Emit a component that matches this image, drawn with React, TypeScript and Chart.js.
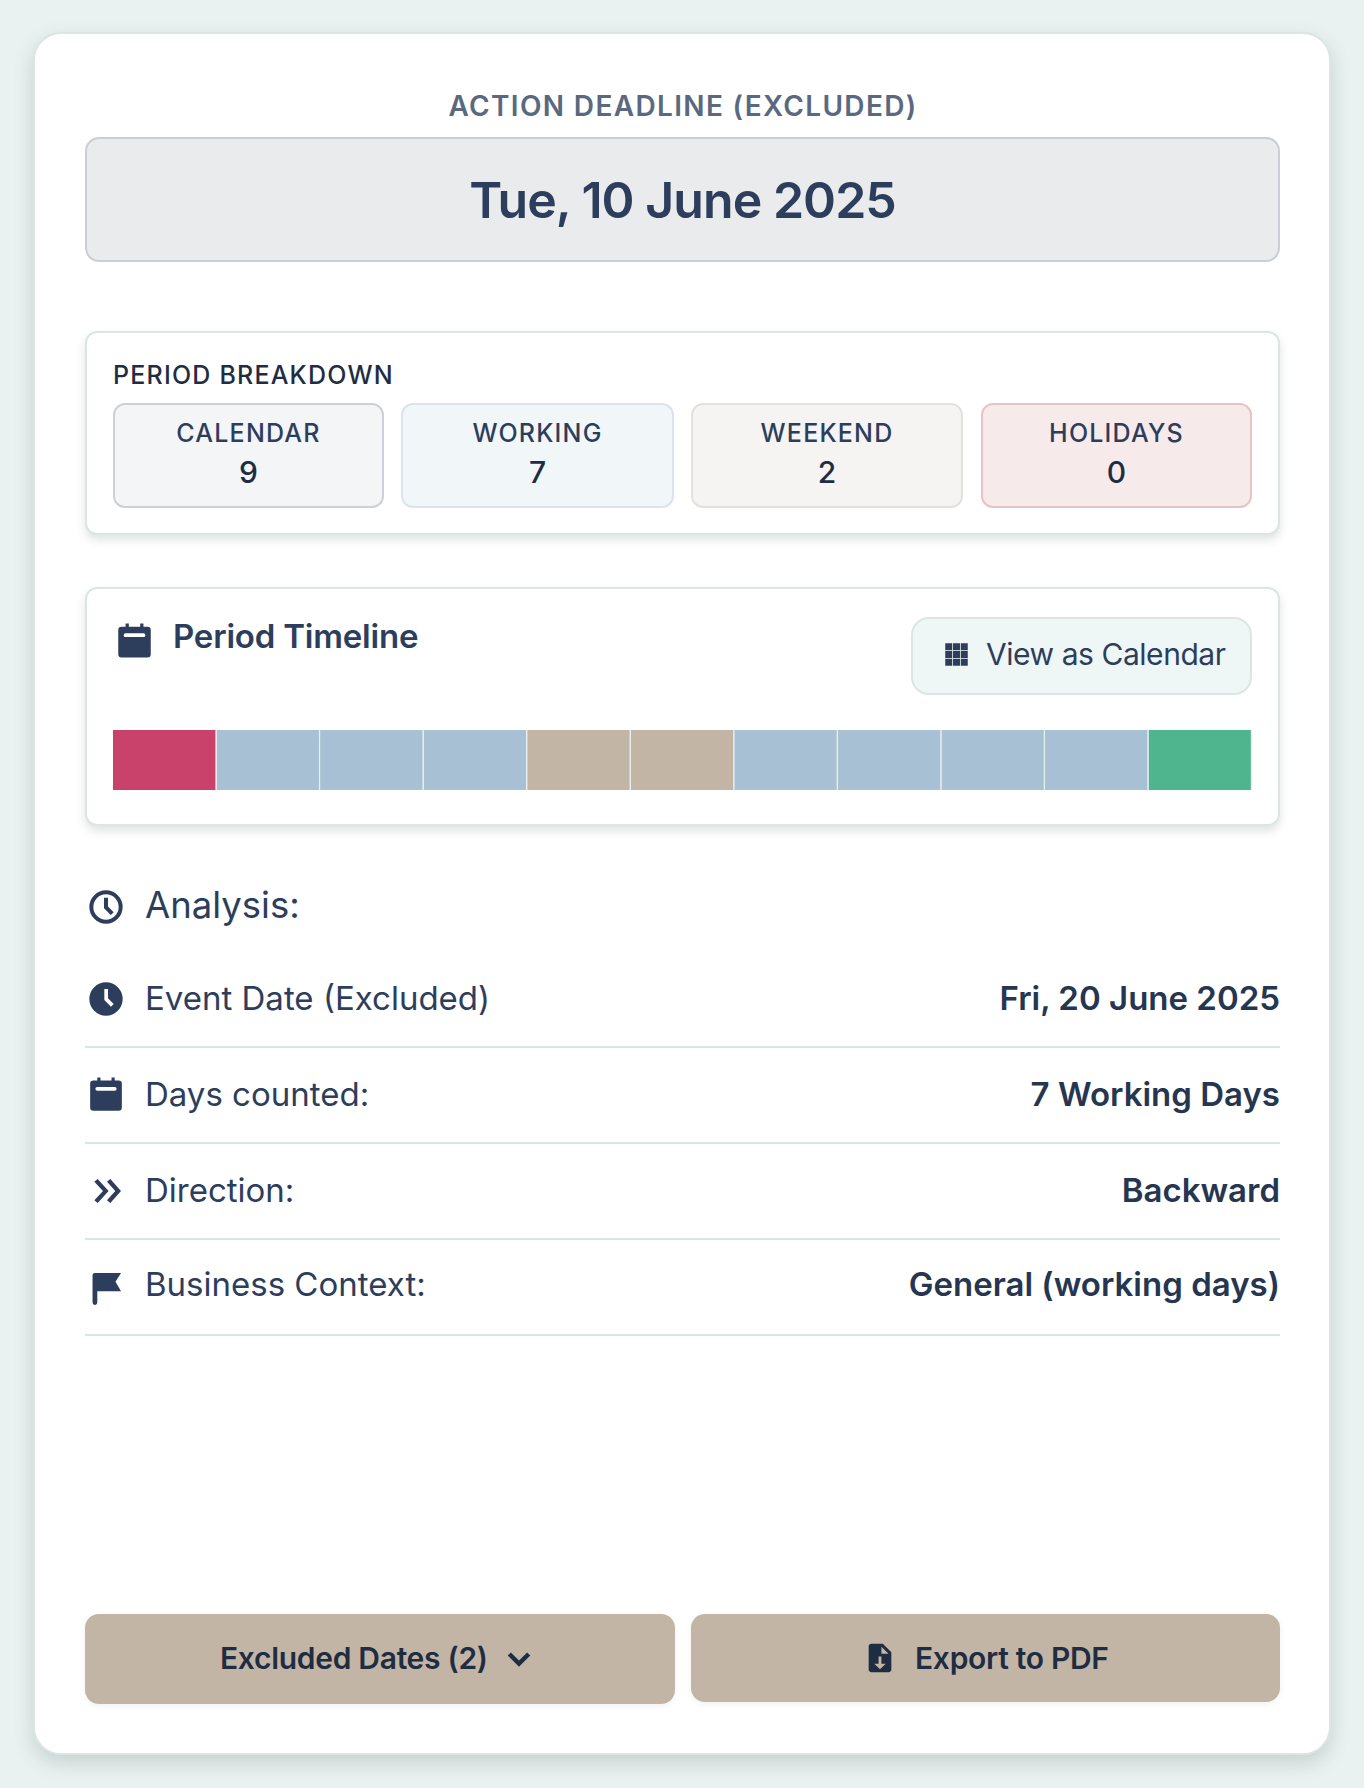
import React, { useEffect, useRef } from "react";
import { Chart, registerables } from "chart.js";

Chart.register(...registerables);

const dayLabels = ["Tue 10 Jun", "Wed 11 Jun", "Thu 12 Jun", "Fri 13 Jun", "Sat 14 Jun", "Sun 15 Jun", "Mon 16 Jun", "Tue 17 Jun", "Wed 18 Jun", "Thu 19 Jun", "Fri 20 Jun"];
const dayValues = [1, 1, 1, 1, 1, 1, 1, 1, 1, 1, 1];
const dayKinds = ["deadline", "working", "working", "working", "weekend", "weekend", "working", "working", "working", "working", "event"];
const kindColors: Record<string, string> = { deadline: "#c9426b", working: "#a8c0d3", weekend: "#c3b5a5", event: "#4fb58e" };

const breakdownLabels = ["CALENDAR", "WORKING", "WEEKEND", "HOLIDAYS"];
const breakdownValues = [9, 7, 2, 0];
const breakdownX = [113, 401, 691, 981];
const breakdownW = [271, 273, 272, 271];
const breakdownBg = ["#f3f5f7", "#f1f6f9", "#f5f4f2", "#f7eaeb"];
const breakdownBorder = ["#cdd0d6", "#d9e4ec", "#e3e1db", "#e6c3c7"];

const rowLabels = ["Event Date (Excluded)", "Days counted:", "Direction:", "Business Context:"];
const rowValues = ["Fri, 20 June 2025", "7 Working Days", "Backward", "General (working days)"];
const rowY = [998, 1094, 1190, 1284];
const lineY = [1046, 1142, 1238, 1334];

const NAVY = "#2d3e5c";
const DARK = "#1f2d42";

const font = "Inter, 'Noto Sans', sans-serif";

function Text({ x, y, w, align = "left", size, weight = 400, color = NAVY, spacing = 0, children }: any) {
  return (
    <div style={{ position: "absolute", left: x, top: y - 30, width: w, height: 60, lineHeight: "60px", textAlign: align, fontSize: size, fontWeight: weight, color, letterSpacing: spacing, whiteSpace: "nowrap" }}>
      {children}
    </div>
  );
}

function Box({ x, y, w, h, bg = "#fff", border, radius = 10, shadow, children }: any) {
  return (
    <div style={{ position: "absolute", left: x, top: y, width: w, height: h, boxSizing: "border-box", background: bg, border: border ? `2px solid ${border}` : "none", borderRadius: radius, boxShadow: shadow }}>
      {children}
    </div>
  );
}

function Icon({ cx, cy, size, color = NAVY, d }: any) {
  return (
    <svg style={{ position: "absolute", left: cx - size / 2, top: cy - size / 2 }} width={size} height={size} viewBox="0 0 24 24">
      <path d={d} fill={color} fillRule="evenodd" />
    </svg>
  );
}

const CAL = "M6.5 1.5h2v2h7v-2h2v2H20a2 2 0 0 1 2 2V20.5a2 2 0 0 1-2 2H4a2 2 0 0 1-2-2V5.5a2 2 0 0 1 2-2h2.5v-2zM6.5 7.5a1 1 0 0 0 0 2.4h11a1 1 0 0 0 0-2.4h-11z";
const CLOCK_FILL = "M12 2a10 10 0 1 1 0 20 10 10 0 0 1 0-20zM11 6v6.6l4 4 1.6-1.6-3.4-3.4V6H11z";
const CLOCK_LINE = "M12 2a10 10 0 1 1 0 20 10 10 0 0 1 0-20zM12 4.4a7.6 7.6 0 1 0 0 15.2 7.6 7.6 0 0 0 0-15.2zM10.8 6.5h2.4v5.2l3.4 3.4-1.7 1.7-4.1-4.1V6.5z";
const CHEV = "M2.5 5 5 3l8.2 9L5 21l-2.5-2L9 12 2.5 5zM12 5l2.5-2 8 9-8 9-2.5-2 6.2-7L12 5z";
const FLAG = "M3.5 4a1.5 1.5 0 0 1 1.5-1.5H21.5L18 8l3.5 6H6.5v7.2a1.4 1.4 0 0 1-3 0V4z";
const GRID = "M2 2h6.2v6.2H2zM8.9 2h6.2v6.2H8.9zM15.8 2H22v6.2h-6.2zM2 8.9h6.2v6.2H2zM8.9 8.9h6.2v6.2H8.9zM15.8 8.9H22v6.2h-6.2zM2 15.8h6.2V22H2zM8.9 15.8h6.2V22H8.9zM15.8 15.8H22V22h-6.2z";
const FILE = "M6 2h8l6 6v12a2 2 0 0 1-2 2H6a2 2 0 0 1-2-2V4a2 2 0 0 1 2-2zM13 4v5h5l-5-5zM11 11v5H8l4 4 4-4h-3v-5h-2z";
const DOWN = "M5.5 7.5 12 14 18.5 7.5 21 10 12 19 3 10z";

export default function App() {
  const ref = useRef<HTMLCanvasElement>(null);
  useEffect(() => {
    const chart = new Chart(ref.current!, {
      type: "bar",
      data: {
        labels: ["Period"],
        datasets: dayLabels.map((label, i) => ({
          label,
          data: [dayValues[i]],
          backgroundColor: kindColors[dayKinds[i]],
          borderColor: "#e6eeee",
          borderWidth: { top: 0, bottom: 0, left: 0, right: 1.5 },
          borderSkipped: false,
          barPercentage: 1,
          categoryPercentage: 1,
        })),
      },
      options: {
        indexAxis: "y",
        animation: false,
        responsive: false,
        devicePixelRatio: 1,
        layout: { padding: 0 },
        plugins: { legend: { display: false }, tooltip: { enabled: false } },
        scales: {
          x: { stacked: true, display: false, min: 0, max: dayValues.length },
          y: { stacked: true, display: false },
        },
      },
    } as any);
    return () => chart.destroy();
  }, []);

  const cardShadow = "0 5px 10px rgba(60,80,80,0.16)";
  return (
    <div style={{ position: "absolute", left: 0, top: 0, width: 1364, height: 1788, overflow: "hidden", background: "#e9f2f0", fontFamily: font }}>
      <Box x={33} y={32} w={1298} h={1723} border="#dbe6e3" radius={28} shadow="0 8px 20px rgba(60,80,80,0.2)" />

      <Text x={85} y={106} w={1196} align="center" size={28} weight={600} color="#5a6880" spacing={1.35}>ACTION DEADLINE (EXCLUDED)</Text>
      <Box x={85} y={137} w={1195} h={125} bg="#e9ebed" border="#cbced4" radius={14} />
      <Text x={85} y={200} w={1195} align="center" size={50} weight={600} spacing={-0.95}>Tue, 10 June 2025</Text>

      <Box x={85} y={331} w={1195} h={204} border="#dbe6e3" radius={12} shadow={cardShadow} />
      <Text x={113} y={375} w={500} size={25} weight={500} color={DARK} spacing={1.2}>PERIOD BREAKDOWN</Text>
      {breakdownLabels.map((label, i) => (
        <React.Fragment key={label}>
          <Box x={breakdownX[i]} y={403} w={breakdownW[i]} h={105} bg={breakdownBg[i]} border={breakdownBorder[i]} radius={12} />
          <Text x={breakdownX[i]} y={433} w={breakdownW[i]} align="center" size={25} weight={500} spacing={1.2}>{label}</Text>
          <Text x={breakdownX[i]} y={472} w={breakdownW[i]} align="center" size={30} weight={500} color={DARK}>{breakdownValues[i]}</Text>
        </React.Fragment>
      ))}

      <Box x={85} y={587} w={1195} h={239} border="#dbe6e3" radius={12} shadow={cardShadow} />
      <Icon cx={134} cy={640} size={39} d={CAL} />
      <Text x={173} y={636} w={500} size={33} weight={600} spacing={-0.2}>Period Timeline</Text>
      <Box x={911} y={617} w={341} h={78} bg="#eff6f6" border="#dbe6e3" radius={18} />
      <Icon cx={956} cy={654} size={27} d={GRID} />
      <Text x={986} y={654} w={260} size={30} weight={400} spacing={-0.45}>View as Calendar</Text>
      <canvas ref={ref} width={1139} height={60} style={{ position: "absolute", left: 113, top: 730, width: 1139, height: 60 }} />

      <Icon cx={106} cy={907} size={40} d={CLOCK_LINE} />
      <Text x={145} y={905} w={500} size={36.5} weight={400}>Analysis:</Text>

      <Icon cx={106} cy={999} size={40} d={CLOCK_FILL} />
      <Icon cx={106} cy={1094} size={38} d={CAL} />
      <Icon cx={107} cy={1191} size={32} d={CHEV} />
      <Icon cx={106} cy={1288} size={38} d={FLAG} />
      {rowLabels.map((label, i) => (
        <React.Fragment key={label}>
          <Text x={145} y={rowY[i]} w={600} size={33}>{label}</Text>
          <Text x={680} y={rowY[i]} w={600} align="right" size={33} weight={600} color="#263650">{rowValues[i]}</Text>
          <div style={{ position: "absolute", left: 85, top: lineY[i], width: 1195, height: 2, background: "#dbe6e3" }} />
        </React.Fragment>
      ))}

      <Box x={85} y={1614} w={590} h={90} bg="#c3b5a5" radius={14} shadow="0 2px 6px rgba(60,80,80,0.08)" />
      <Text x={220} y={1658} w={300} size={30} weight={600} color={DARK} spacing={-0.3}>Excluded Dates (2)</Text>
      <Icon cx={519} cy={1658} size={30} color={DARK} d={DOWN} />
      <Box x={691} y={1614} w={589} h={88} bg="#c3b5a5" radius={14} shadow="0 2px 6px rgba(60,80,80,0.08)" />
      <Icon cx={880} cy={1658} size={34} color={DARK} d={FILE} />
      <Text x={915} y={1658} w={300} size={30} weight={600} color={DARK} spacing={-0.3}>Export to PDF</Text>
    </div>
  );
}
